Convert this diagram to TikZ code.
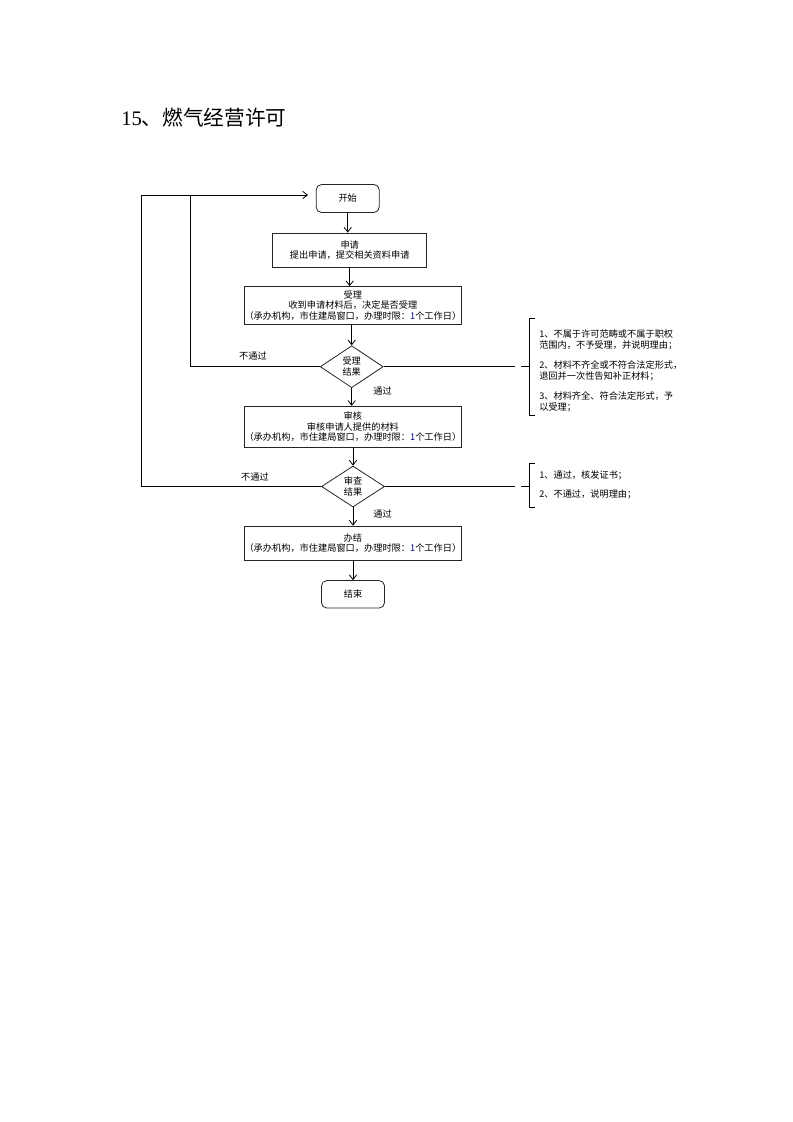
\documentclass[tikz,border=0pt]{standalone}
\usepackage{fontspec}
\setmainfont{Liberation Serif}
\newfontfamily\cjk{Noto Sans CJK SC}
\usetikzlibrary{shapes.geometric,arrows.meta}
\newcommand{\one}{\textcolor{blue!50!black}{1}}
\begin{document}
\begin{tikzpicture}[x=0.75pt,y=-0.75pt,
  every node/.style={font=\cjk\fontsize{6.9}{7.9}\selectfont},
  box/.style={draw=black!85, line width=0.6pt, align=center, inner sep=0pt, minimum width=214*0.75pt},
  term/.style={draw=black!85, line width=0.6pt, rounded corners=4pt, inner sep=0pt, minimum width=63*0.75pt, minimum height=28*0.75pt},
  dec/.style={draw=black!85, line width=0.6pt, diamond, align=center, inner sep=0pt, minimum width=63*0.75pt, minimum height=42*0.75pt},
  lbl/.style={inner sep=0pt},
  note/.style={inner sep=0pt, align=left, anchor=west},
  ln/.style={line width=0.6pt, black},
  arr/.style={ln, -{Straight Barb[length=3.5pt,width=5.5pt]}}]
\useasboundingbox[fill=white] (0,0) rectangle (793,1122);

\node[anchor=west, inner sep=0pt, font=\fontsize{15.5}{18}\selectfont] (title) at (121,118) {15\cjk 、燃气经营许可};

\node[term] (start) at (347.7,198.5) {开始};
\node[box, minimum width=154*0.75pt, minimum height=34*0.75pt] (apply) at (349.7,250) {申请\\提出申请，提交相关资料申请};
\node[box, minimum height=37.5*0.75pt] (accept) at (352.9,305.3) {受理\\收到申请材料后，决定是否受理\\（承办机构，市住建局窗口，办理时限：\one 个工作日）};
\node[dec] (d1) at (351.7,366.7) {受理\\结果};
\node[box, minimum height=41*0.75pt] (review) at (352.9,426.7) {审核\\审核申请人提供的材料\\（承办机构，市住建局窗口，办理时限：\one 个工作日）};
\node[dec, minimum height=41*0.75pt] (d2) at (353,486.5) {审查\\结果};
\node[box, minimum height=34*0.75pt] (done) at (352.9,543) {办结\\（承办机构，市住建局窗口，办理时限：\one 个工作日）};
\node[term, minimum height=27.5*0.75pt] (end) at (353,594.3) {结束};

\draw[arr] (start.south) -- (start.south |- apply.north);
\draw[arr] (apply.south) -- (apply.south |- accept.north);
\draw[arr] (d1.north |- accept.south) -- (d1.north);
\draw[arr] (d1.south) -- (d1.south |- review.north);
\draw[arr] (d2.north |- review.south) -- (d2.north);
\draw[arr] (d2.south) -- (d2.south |- done.north);
\draw[arr] (end.north |- done.south) -- (end.north);

\coordinate (in1) at (190,195);
\coordinate (out1) at (141.7,195);
\coordinate (tip) at (308,195);
\draw[ln] (d1.west) -| (in1);
\draw[arr] (d2.west) -- (d2.west -| out1) -- (out1) -- (tip);

\node[lbl] (no1) at (253,356) {不通过};
\node[lbl] (no2) at (255,477) {不通过};
\node[lbl] (yes1) at (382.5,391) {通过};
\node[lbl] (yes2) at (382.5,514) {通过};

% right brackets
\coordinate (r1) at (515,366.7);
\draw[ln] (d1.east) -- (r1);
\draw[ln] (521,366.7) -- (529.3,366.7);
\draw[ln] (535,318.5) -- (529.3,318.5) -- (529.3,415) -- (535,415);
\coordinate (r2) at (515,486.5);
\draw[ln] (d2.east) -- (r2);
\draw[ln] (521,486.5) -- (529.3,486.5);
\draw[ln] (535,463) -- (529.3,463) -- (529.3,507.5) -- (535,507.5);

\node[note] (n11) at (539,339.8) {1、不属于许可范畴或不属于职权\\范围内，不予受理，并说明理由；};
\node[note] (n12) at (539,370.8) {2、材料不齐全或不符合法定形式，\\退回并一次性告知补正材料；};
\node[note] (n13) at (539,401.8) {3、材料齐全、符合法定形式，予\\以受理；};
\node[note] (n21) at (539,475) {1、通过，核发证书；};
\node[note] (n22) at (539,494.5) {2、不通过，说明理由；};
\end{tikzpicture}
\end{document}
